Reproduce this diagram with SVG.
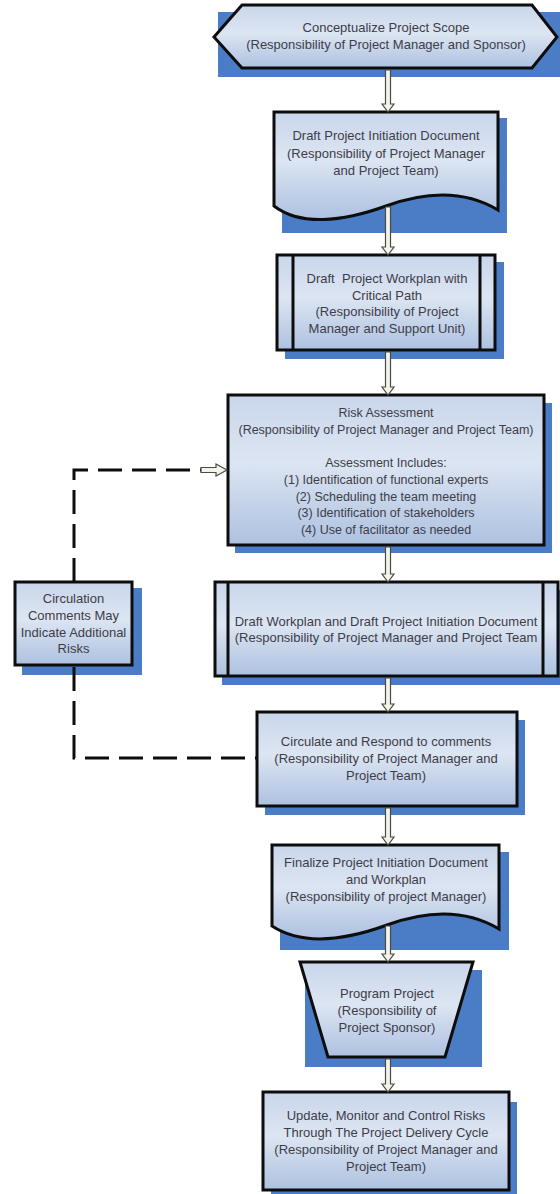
<svg xmlns="http://www.w3.org/2000/svg" width="560" height="1194" viewBox="0 0 560 1194">
<defs>
<linearGradient id="g" x1="0" y1="0" x2="0" y2="1">
<stop offset="0" stop-color="#c9d6eb"/>
<stop offset="0.45" stop-color="#dce5f2"/>
<stop offset="1" stop-color="#adc1e0"/>
</linearGradient>
<style>
.sh{fill:#4b7cc6}
.bx{fill:url(#g);stroke:#0d0d0d;stroke-width:3;stroke-linejoin:miter}
.ln{stroke:#0d0d0d;stroke-width:3;fill:none}
.t{font-family:"Liberation Sans",Arial,sans-serif;font-size:13px;fill:#3d3d48;text-anchor:middle}
.ar{fill:#f3f3e6;stroke:#4a4a4a;stroke-width:1.2;stroke-linejoin:miter}
.da{fill:none;stroke:#0d0d0d;stroke-width:3;stroke-dasharray:24 10}
</style>
</defs>
<rect width="560" height="1194" fill="#ffffff"/>

<g id="n1">
<rect class="sh" x="218" y="12" width="348" height="65"/>
<polygon class="bx" points="214,37 242,5 532,5 557,37 532,68 242,68"/>
<text class="t" x="386" y="32">Conceptualize Project Scope</text>
<text class="t" x="386" y="49">(Responsibility of Project Manager and Sponsor)</text>
</g>

<g id="n2">
<rect class="sh" x="282" y="118" width="225" height="115"/>
<path class="bx" d="M274,112 H498 V210 C468,192 430,190 386,206 C342,222 300,226 274,206 Z"/>
<text class="t" x="386" y="140">Draft Project Initiation Document</text>
<text class="t" x="386" y="158">(Responsibility of Project Manager</text>
<text class="t" x="386" y="175">and Project Team)</text>
</g>

<g id="n3">
<rect class="sh" x="285" y="262" width="219" height="97"/>
<rect class="bx" x="277" y="255" width="218" height="95"/>
<line class="ln" x1="293" y1="255" x2="293" y2="350"/>
<line class="ln" x1="480" y1="255" x2="480" y2="350"/>
<text class="t" x="387" y="283" xml:space="preserve">Draft  Project Workplan with</text>
<text class="t" x="387" y="300">Critical Path</text>
<text class="t" x="387" y="316">(Responsibility of Project</text>
<text class="t" x="387" y="333">Manager and Support Unit)</text>
</g>

<g id="n4">
<rect class="sh" x="235" y="403" width="317" height="150"/>
<rect class="bx" x="228" y="395" width="316" height="150"/>
<text class="t" x="386" y="417" style="font-size:12.5px">Risk Assessment</text>
<text class="t" x="386" y="433.5" style="font-size:12.5px">(Responsibility of Project Manager and Project Team)</text>
<text class="t" x="386" y="467" style="font-size:12.5px">Assessment Includes:</text>
<text class="t" x="386" y="484" style="font-size:12.5px">(1) Identification of functional experts</text>
<text class="t" x="386" y="500.5" style="font-size:12.5px">(2) Scheduling the team meeting</text>
<text class="t" x="386" y="517" style="font-size:12.5px">(3) Identification of stakeholders</text>
<text class="t" x="386" y="534" style="font-size:12.5px">(4) Use of facilitator as needed</text>
</g>

<g id="n5">
<rect class="sh" x="222" y="590" width="344" height="95"/>
<rect class="bx" x="215" y="582" width="343" height="94"/>
<line class="ln" x1="228" y1="582" x2="228" y2="676"/>
<line class="ln" x1="543" y1="582" x2="543" y2="676"/>
<text class="t" x="386" y="626">Draft Workplan and Draft Project Initiation Document</text>
<text class="t" x="386" y="642">(Responsibility of Project Manager and Project Team</text>
</g>

<g id="n6">
<rect class="sh" x="265" y="720" width="260" height="95"/>
<rect class="bx" x="257" y="712" width="260" height="94"/>
<text class="t" x="386" y="746">Circulate and Respond to comments</text>
<text class="t" x="386" y="763">(Responsibility of Project Manager and</text>
<text class="t" x="386" y="780">Project Team)</text>
</g>

<g id="n7">
<rect class="sh" x="280" y="852" width="229" height="98"/>
<path class="bx" d="M272,845 H499 V929 C469,911 431,909 387,925 C343,941 301,945 272,926 Z"/>
<text class="t" x="386" y="867">Finalize Project Initiation Document</text>
<text class="t" x="386" y="884">and Workplan</text>
<text class="t" x="386" y="901">(Responsibility of project Manager)</text>
</g>

<g id="n8">
<rect class="sh" x="305" y="970" width="177" height="97"/>
<polygon class="bx" points="300,962 473,962 445,1057 328,1057"/>
<text class="t" x="387" y="998">Program Project</text>
<text class="t" x="387" y="1015">(Responsibility of</text>
<text class="t" x="387" y="1032">Project Sponsor)</text>
</g>

<g id="n9">
<rect class="sh" x="271" y="1102" width="246" height="100"/>
<rect class="bx" x="263" y="1092" width="246" height="98"/>
<text class="t" x="386" y="1120">Update, Monitor and Control Risks</text>
<text class="t" x="386" y="1137">Through The Project Delivery Cycle</text>
<text class="t" x="386" y="1154">(Responsibility of Project Manager and</text>
<text class="t" x="386" y="1171">Project Team)</text>
</g>

<g id="n10">
<rect class="sh" x="22" y="588" width="120" height="87"/>
<rect class="bx" x="15" y="582" width="117" height="83"/>
<text class="t" x="73.5" y="603">Circulation</text>
<text class="t" x="73.5" y="620">Comments May</text>
<text class="t" x="73.5" y="636.5">Indicate Additional</text>
<text class="t" x="73.5" y="653">Risks</text>
</g>

<g id="connectors">
<polygon class="ar" points="385.5,70 390.5,70 390.5,104 394,104 388,112 382,104 385.5,104"/>
<polygon class="ar" points="385.5,207 390.5,207 390.5,247 394,247 388,255 382,247 385.5,247"/>
<polygon class="ar" points="385.5,352 390.5,352 390.5,387 394,387 388,395 382,387 385.5,387"/>
<polygon class="ar" points="385.5,547 390.5,547 390.5,574 394,574 388,582 382,574 385.5,574"/>
<polygon class="ar" points="385.5,678 390.5,678 390.5,704 394,704 388,712 382,704 385.5,704"/>
<polygon class="ar" points="385.5,808 390.5,808 390.5,837 394,837 388,845 382,837 385.5,837"/>
<polygon class="ar" points="385.5,926 390.5,926 390.5,954 394,954 388,962 382,954 385.5,954"/>
<polygon class="ar" points="385.5,1059 390.5,1059 390.5,1084 394,1084 388,1092 382,1084 385.5,1084"/>
<path class="da" d="M74,582 V470 H203"/>
<polygon class="ar" points="201,467.5 216,467.5 216,464 227,470 216,476 216,472.5 201,472.5"/>
<path class="da" d="M74,667 V758 H256"/>
</g>
</svg>
